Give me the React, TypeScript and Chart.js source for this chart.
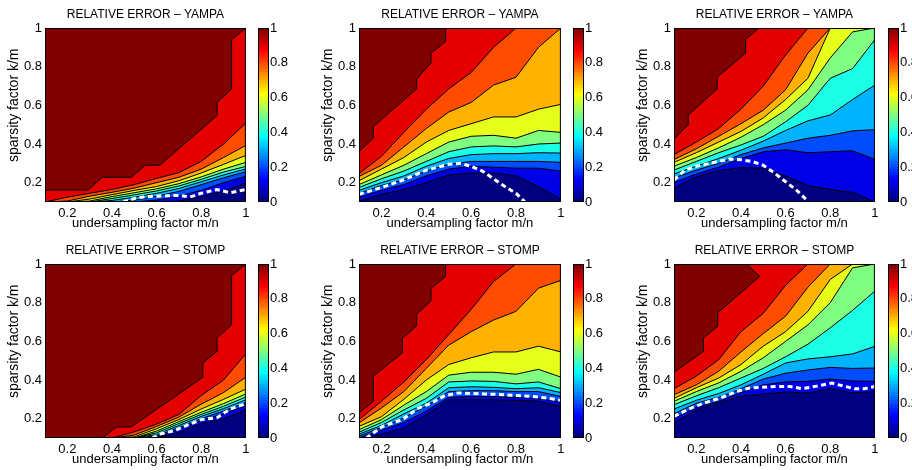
import React, { useEffect, useRef } from "react";
import { Chart, registerables } from "chart.js";

Chart.register(...registerables);

// ---------------- data ----------------
// x grid (undersampling factor m/n) on which contour levels 0.1..0.9 are sampled
const X_GRID = [0.1, 0.2, 0.3, 0.4, 0.5, 0.6, 0.7, 0.8, 0.9, 1.0];
const AXIS_TICKS = [0.2, 0.4, 0.6, 0.8, 1];
const COLORBAR_TICKS = [0, 0.2, 0.4, 0.6, 0.8, 1];
const CONTOUR_LEVELS = [0.1, 0.2, 0.3, 0.4, 0.5, 0.6, 0.7, 0.8, 0.9, 1.0];
const TITLES = ["RELATIVE ERROR – YAMPA", "RELATIVE ERROR – STOMP"];
const X_LABEL = "undersampling factor m/n";
const Y_LABEL = "\u00a0\u00a0\u00a0\u00a0\u00a0sparsity factor k/m";

// each row: k/m of contour level 0.1, 0.2, ... 0.9 along X_GRID
const YAMPA_1_LEVELS = [
  [0.1, 0.1, 0.1, 0.1, 0.1, 0.1, 0.105, 0.13, 0.155, 0.198],
  [0.1, 0.1, 0.1, 0.1, 0.1, 0.11, 0.13, 0.16, 0.2, 0.233],
  [0.1, 0.1, 0.1, 0.1, 0.11, 0.13, 0.155, 0.19, 0.225, 0.257],
  [0.1, 0.1, 0.1, 0.108, 0.125, 0.145, 0.17, 0.205, 0.24, 0.271],
  [0.1, 0.1, 0.1, 0.118, 0.137, 0.157, 0.183, 0.217, 0.255, 0.284],
  [0.1, 0.1, 0.105, 0.128, 0.148, 0.168, 0.195, 0.23, 0.27, 0.305],
  [0.1, 0.1, 0.115, 0.138, 0.16, 0.18, 0.21, 0.25, 0.295, 0.341],
  [0.1, 0.105, 0.13, 0.15, 0.172, 0.2, 0.228, 0.27, 0.33, 0.393],
  [0.1, 0.125, 0.145, 0.165, 0.19, 0.222, 0.252, 0.31, 0.4, 0.509],
];
// contour level 1.0 as [m/n, k/m] vertices
const YAMPA_1_TOP = [[0.1, 0.162], [0.293, 0.162], [0.357, 0.228], [0.486, 0.228], [0.55, 0.29], [0.614, 0.29], [0.871, 0.547], [0.871, 0.616], [0.936, 0.684], [0.936, 0.94], [1, 1]];
const YAMPA_1_DASH = [[0.45, 0.1], [0.5, 0.118], [0.55, 0.128], [0.65, 0.132], [0.7, 0.134], [0.75, 0.126], [0.8, 0.145], [0.87, 0.164], [0.93, 0.148], [1, 0.165]];

const YAMPA_2_LEVELS = [
  [0.105, 0.14, 0.165, 0.2, 0.24, 0.25, 0.25, 0.235, 0.18, 0.115],
  [0.125, 0.16, 0.19, 0.235, 0.27, 0.285, 0.28, 0.275, 0.275, 0.26],
  [0.145, 0.185, 0.215, 0.26, 0.295, 0.31, 0.31, 0.31, 0.31, 0.305],
  [0.16, 0.2, 0.235, 0.285, 0.325, 0.345, 0.35, 0.35, 0.355, 0.353],
  [0.175, 0.22, 0.26, 0.31, 0.36, 0.385, 0.39, 0.385, 0.4, 0.405],
  [0.19, 0.24, 0.29, 0.35, 0.41, 0.44, 0.445, 0.43, 0.47, 0.46],
  [0.21, 0.27, 0.33, 0.41, 0.47, 0.505, 0.54, 0.54, 0.58, 0.605],
  [0.232, 0.29, 0.385, 0.48, 0.565, 0.615, 0.705, 0.745, 0.9, 1],
  [0.247, 0.336, 0.46, 0.58, 0.685, 0.77, 0.9, 1, 1, 1],
];
const YAMPA_2_TOP = [[0.1, 0.36], [0.164, 0.43], [0.164, 0.49], [0.357, 0.685], [0.357, 0.735], [0.421, 0.82], [0.421, 0.87], [0.486, 0.93], [0.486, 1], [1, 1]];
const YAMPA_2_DASH = [[0.1, 0.14], [0.2, 0.175], [0.3, 0.215], [0.4, 0.265], [0.45, 0.28], [0.5, 0.295], [0.55, 0.3], [0.6, 0.285], [0.65, 0.26], [0.7, 0.22], [0.75, 0.18], [0.8, 0.145], [0.84, 0.1]];

const YAMPA_3_LEVELS = [
  [0.172, 0.23, 0.262, 0.278, 0.275, 0.235, 0.185, 0.165, 0.15, 0.1],
  [0.2, 0.245, 0.28, 0.325, 0.36, 0.37, 0.355, 0.36, 0.365, 0.32],
  [0.225, 0.265, 0.3, 0.345, 0.38, 0.405, 0.43, 0.445, 0.468, 0.474],
  [0.245, 0.285, 0.325, 0.368, 0.415, 0.47, 0.52, 0.55, 0.63, 0.705],
  [0.265, 0.31, 0.355, 0.395, 0.44, 0.515, 0.6, 0.74, 0.79, 0.94],
  [0.285, 0.33, 0.38, 0.435, 0.5, 0.575, 0.68, 0.845, 0.98, 1],
  [0.305, 0.355, 0.41, 0.465, 0.535, 0.63, 0.74, 1, 1, 1],
  [0.32, 0.375, 0.44, 0.505, 0.575, 0.68, 0.87, 1, 1, 1],
  [0.345, 0.41, 0.48, 0.58, 0.7, 0.86, 1, 1, 1, 1],
];
const YAMPA_3_TOP = [[0.1, 0.425], [0.164, 0.5], [0.164, 0.55], [0.293, 0.685], [0.293, 0.745], [0.421, 0.87], [0.421, 0.94], [0.48, 1], [1, 1]];
const YAMPA_3_DASH = [[0.1, 0.215], [0.15, 0.265], [0.2, 0.285], [0.3, 0.31], [0.35, 0.322], [0.4, 0.318], [0.45, 0.31], [0.5, 0.29], [0.55, 0.25], [0.6, 0.205], [0.65, 0.16], [0.7, 0.105]];

const STOMP_1_LEVELS = [
  [0.1, 0.1, 0.1, 0.1, 0.1, 0.1, 0.128, 0.175, 0.2, 0.245],
  [0.1, 0.1, 0.1, 0.1, 0.1, 0.103, 0.145, 0.19, 0.225, 0.268],
  [0.1, 0.1, 0.1, 0.1, 0.1, 0.11, 0.155, 0.2, 0.24, 0.284],
  [0.1, 0.1, 0.1, 0.1, 0.1, 0.118, 0.165, 0.212, 0.252, 0.298],
  [0.1, 0.1, 0.1, 0.1, 0.1, 0.127, 0.175, 0.222, 0.264, 0.312],
  [0.1, 0.1, 0.1, 0.1, 0.1, 0.136, 0.185, 0.233, 0.278, 0.328],
  [0.1, 0.1, 0.1, 0.1, 0.106, 0.148, 0.196, 0.25, 0.3, 0.353],
  [0.1, 0.1, 0.1, 0.1, 0.115, 0.16, 0.208, 0.275, 0.335, 0.415],
  [0.1, 0.1, 0.1, 0.1, 0.132, 0.172, 0.222, 0.32, 0.4, 0.536],
];
const STOMP_1_TOP = [[0.1, 0.1], [0.357, 0.1], [0.421, 0.157], [0.486, 0.157], [0.807, 0.414], [0.807, 0.488], [0.871, 0.548], [0.871, 0.617], [0.936, 0.686], [0.936, 0.94], [1, 1]];
const STOMP_1_DASH = [[0.58, 0.1], [0.62, 0.122], [0.68, 0.138], [0.74, 0.168], [0.8, 0.195], [0.87, 0.205], [0.93, 0.25], [1, 0.278]];

const STOMP_2_LEVELS = [
  [0.1, 0.12, 0.152, 0.221, 0.298, 0.298, 0.298, 0.295, 0.29, 0.264],
  [0.1, 0.14, 0.18, 0.24, 0.31, 0.315, 0.315, 0.31, 0.305, 0.285],
  [0.11, 0.155, 0.205, 0.265, 0.34, 0.345, 0.345, 0.34, 0.34, 0.315],
  [0.12, 0.165, 0.225, 0.28, 0.36, 0.365, 0.362, 0.355, 0.36, 0.335],
  [0.13, 0.18, 0.245, 0.305, 0.39, 0.395, 0.393, 0.38, 0.39, 0.355],
  [0.143, 0.195, 0.27, 0.34, 0.425, 0.44, 0.44, 0.43, 0.455, 0.415],
  [0.16, 0.21, 0.3, 0.4, 0.48, 0.515, 0.545, 0.545, 0.575, 0.545],
  [0.178, 0.255, 0.34, 0.46, 0.58, 0.65, 0.71, 0.755, 0.875, 0.915],
  [0.195, 0.29, 0.39, 0.505, 0.635, 0.765, 0.91, 1, 1, 1],
];
const STOMP_2_TOP = [[0.1, 0.23], [0.164, 0.29], [0.164, 0.42], [0.293, 0.54], [0.293, 0.615], [0.357, 0.68], [0.357, 0.74], [0.421, 0.81], [0.421, 0.875], [0.486, 0.935], [0.486, 1], [1, 1]];
const STOMP_2_DASH = [[0.132, 0.1], [0.205, 0.16], [0.293, 0.195], [0.365, 0.255], [0.424, 0.281], [0.482, 0.319], [0.54, 0.333], [0.657, 0.328], [0.745, 0.324], [0.861, 0.316], [0.934, 0.307], [1, 0.295]];

const STOMP_3_LEVELS = [
  [0.178, 0.247, 0.281, 0.316, 0.328, 0.338, 0.333, 0.355, 0.333, 0.341],
  [0.2, 0.26, 0.29, 0.335, 0.375, 0.39, 0.393, 0.405, 0.395, 0.393],
  [0.225, 0.28, 0.31, 0.355, 0.405, 0.435, 0.452, 0.465, 0.46, 0.462],
  [0.25, 0.295, 0.33, 0.375, 0.43, 0.488, 0.509, 0.52, 0.535, 0.574],
  [0.272, 0.318, 0.36, 0.41, 0.46, 0.52, 0.585, 0.67, 0.76, 0.86],
  [0.29, 0.34, 0.385, 0.445, 0.515, 0.6, 0.685, 0.8, 0.98, 1],
  [0.305, 0.36, 0.41, 0.48, 0.575, 0.65, 0.755, 0.92, 1, 1],
  [0.324, 0.375, 0.445, 0.545, 0.64, 0.73, 0.88, 1, 1, 1],
  [0.355, 0.42, 0.505, 0.65, 0.745, 0.89, 1, 1, 1, 1],
];
const STOMP_3_TOP = [[0.1, 0.44], [0.232, 0.548], [0.232, 0.617], [0.296, 0.678], [0.296, 0.747], [0.484, 0.936], [0.425, 1], [1, 1]];
const STOMP_3_DASH = [[0.1, 0.212], [0.176, 0.255], [0.235, 0.281], [0.308, 0.307], [0.381, 0.341], [0.44, 0.359], [0.557, 0.367], [0.616, 0.367], [0.675, 0.355], [0.733, 0.367], [0.807, 0.384], [0.865, 0.367], [0.909, 0.355], [0.953, 0.355], [1, 0.367]];

// ---------------- layout / style ----------------
const FONT = "'Liberation Sans', Arial, Helvetica, sans-serif";
const PLOT_LEFT = [45, 359, 674];
const PLOT_RIGHT = [250, 565, 879];
const ROW_TOP = [28, 264];
const PLOT_H = 174;
const TITLE_H = 28;
const XAXIS_H = 33;
const YAXIS_W = 45;
const CB_LEFT = [258, 573, 888];
const CB_W = 11;
const CB_AXIS_W = 30;

function jet(v: number): string {
  const c = (t: number) => Math.round(255 * Math.max(0, Math.min(1, 1.5 - Math.abs(t))));
  return `rgb(${c(4 * v - 3)},${c(4 * v - 2)},${c(4 * v - 1)})`;
}

const fmt = (v: any) => String(Math.round(Number(v) * 10) / 10);

const framePlugin = {
  id: "frame",
  afterDraw(chart: any) {
    const { ctx, chartArea: a } = chart;
    ctx.save();
    ctx.strokeStyle = "#000";
    ctx.lineWidth = 1;
    ctx.strokeRect(a.left + 0.5, a.top + 0.5, a.right - a.left - 1, a.bottom - a.top - 1);
    ctx.restore();
  },
};

type PanelProps = {
  col: number;
  row: number;
  levels: number[][];
  top: number[][];
  dash: number[][];
};

function ContourPanel({ col, row, levels, top, dash }: PanelProps) {
  const ref = useRef<HTMLCanvasElement>(null);
  const width = YAXIS_W + (PLOT_RIGHT[col] - PLOT_LEFT[col]) + 3;
  const height = TITLE_H + PLOT_H + XAXIS_H;
  useEffect(() => {
    const curves = [
      ...levels.map((r) => r.map((y, i) => ({ x: X_GRID[i], y }))),
      top.map(([x, y]) => ({ x, y })),
    ];
    const datasets: any[] = [];
    datasets.push({
      label: "boundary",
      data: dash.map(([x, y]) => ({ x, y })),
      borderColor: "#ffffff",
      borderWidth: 3,
      borderDash: [5, 3.5],
      fill: false,
      pointRadius: 0,
    });
    curves.forEach((pts, k) => {
      datasets.push({
        label: "level " + CONTOUR_LEVELS[k],
        data: pts,
        borderColor: "#000",
        borderWidth: 1,
        backgroundColor: jet(CONTOUR_LEVELS[k] - 0.1),
        fill: "start",
        pointRadius: 0,
      });
    });
    datasets.push({
      label: "above",
      data: [{ x: 0.1, y: 1 }, { x: 1, y: 1 }],
      borderWidth: 0,
      borderColor: "rgba(0,0,0,0)",
      backgroundColor: jet(1),
      fill: "start",
      pointRadius: 0,
    });
    const tickFont = { family: FONT, size: 13 };
    const chart = new Chart(ref.current!, {
      type: "line",
      data: { datasets },
      options: {
        animation: false,
        responsive: false,
        events: [],
        layout: { padding: { left: 0, right: 3, top: 0, bottom: 0 } },
        elements: { line: { tension: 0 }, point: { radius: 0 } },
        plugins: {
          legend: { display: false },
          tooltip: { enabled: false },
          title: {
            display: true,
            text: TITLES[row],
            fullSize: false,
            color: "#000",
            font: { family: FONT, size: 12, weight: "normal" },
            padding: { top: 7.5, bottom: 6.1 },
          },
        },
        scales: {
          x: {
            type: "linear",
            min: 0.1,
            max: 1,
            afterBuildTicks: (s: any) => {
              s.ticks = AXIS_TICKS.map((value) => ({ value }));
            },
            afterFit: (s: any) => {
              s.height = XAXIS_H;
            },
            ticks: { callback: fmt, padding: 3.5, color: "#000", font: tickFont, maxRotation: 0, autoSkip: false },
            grid: { display: false, drawTicks: false },
            border: { display: false },
            title: { display: true, text: X_LABEL, color: "#000", font: tickFont, padding: { top: 0, bottom: 3.8 } },
          },
          y: {
            type: "linear",
            min: 0.1,
            max: 1,
            afterBuildTicks: (s: any) => {
              s.ticks = AXIS_TICKS.map((value) => ({ value }));
            },
            afterFit: (s: any) => {
              s.width = YAXIS_W;
            },
            ticks: { callback: fmt, padding: 3, color: "#000", font: tickFont, autoSkip: false },
            grid: { display: false, drawTicks: false },
            border: { display: false },
            title: {
              display: true,
              text: Y_LABEL,
              color: "#000",
              font: { family: FONT, size: 14 },
              padding: { top: 5.6, bottom: 0 },
            },
          },
        },
      } as any,
      plugins: [framePlugin],
    });
    return () => chart.destroy();
  }, []);
  return (
    <canvas
      ref={ref}
      width={width}
      height={height}
      style={{
        position: "absolute",
        left: PLOT_LEFT[col] - YAXIS_W,
        top: ROW_TOP[row] - TITLE_H,
        width,
        height,
      }}
    />
  );
}

function ColorBar({ col, row }: { col: number; row: number }) {
  const ref = useRef<HTMLCanvasElement>(null);
  const width = CB_W + CB_AXIS_W;
  const height = TITLE_H + PLOT_H + XAXIS_H;
  useEffect(() => {
    const gradient = (ctx: any) => {
      const chart = ctx.chart;
      const a = chart.chartArea;
      if (!a) return "#000";
      const g = chart.ctx.createLinearGradient(0, a.bottom, 0, a.top);
      const n = 64;
      for (let i = 0; i < n; i++) {
        const c = jet(i / (n - 1));
        g.addColorStop(i / n, c);
        g.addColorStop((i + 1) / n, c);
      }
      return g;
    };
    const chart = new Chart(ref.current!, {
      type: "bar",
      data: {
        labels: [""],
        datasets: [
          {
            data: [[0, 1]],
            backgroundColor: gradient,
            borderWidth: 0,
            barPercentage: 1,
            categoryPercentage: 1,
          },
        ],
      },
      options: {
        animation: false,
        responsive: false,
        events: [],
        layout: { padding: { left: 0, right: 0, top: TITLE_H, bottom: XAXIS_H } },
        plugins: { legend: { display: false }, tooltip: { enabled: false } },
        scales: {
          x: { display: false },
          y: {
            position: "right",
            min: 0,
            max: 1,
            afterBuildTicks: (s: any) => {
              s.ticks = COLORBAR_TICKS.map((value) => ({ value }));
            },
            afterFit: (s: any) => {
              s.width = CB_AXIS_W;
            },
            ticks: { callback: fmt, padding: 1, color: "#000", font: { family: FONT, size: 13 }, autoSkip: false },
            grid: { display: false, drawTicks: false },
            border: { display: false },
          },
        },
      } as any,
      plugins: [framePlugin],
    });
    return () => chart.destroy();
  }, []);
  return (
    <canvas
      ref={ref}
      width={width}
      height={height}
      style={{ position: "absolute", left: CB_LEFT[col], top: ROW_TOP[row] - TITLE_H, width, height }}
    />
  );
}

const PANELS = [
  { col: 0, row: 0, levels: YAMPA_1_LEVELS, top: YAMPA_1_TOP, dash: YAMPA_1_DASH },
  { col: 1, row: 0, levels: YAMPA_2_LEVELS, top: YAMPA_2_TOP, dash: YAMPA_2_DASH },
  { col: 2, row: 0, levels: YAMPA_3_LEVELS, top: YAMPA_3_TOP, dash: YAMPA_3_DASH },
  { col: 0, row: 1, levels: STOMP_1_LEVELS, top: STOMP_1_TOP, dash: STOMP_1_DASH },
  { col: 1, row: 1, levels: STOMP_2_LEVELS, top: STOMP_2_TOP, dash: STOMP_2_DASH },
  { col: 2, row: 1, levels: STOMP_3_LEVELS, top: STOMP_3_TOP, dash: STOMP_3_DASH },
];

export default function App() {
  return (
    <div
      style={{
        position: "absolute",
        left: 0,
        top: 0,
        width: 912,
        height: 470,
        overflow: "hidden",
        background: "#fff",
      }}
    >
      {PANELS.map((p) => (
        <React.Fragment key={`${p.col}-${p.row}`}>
          <ContourPanel col={p.col} row={p.row} levels={p.levels} top={p.top} dash={p.dash} />
          <ColorBar col={p.col} row={p.row} />
        </React.Fragment>
      ))}
    </div>
  );
}
